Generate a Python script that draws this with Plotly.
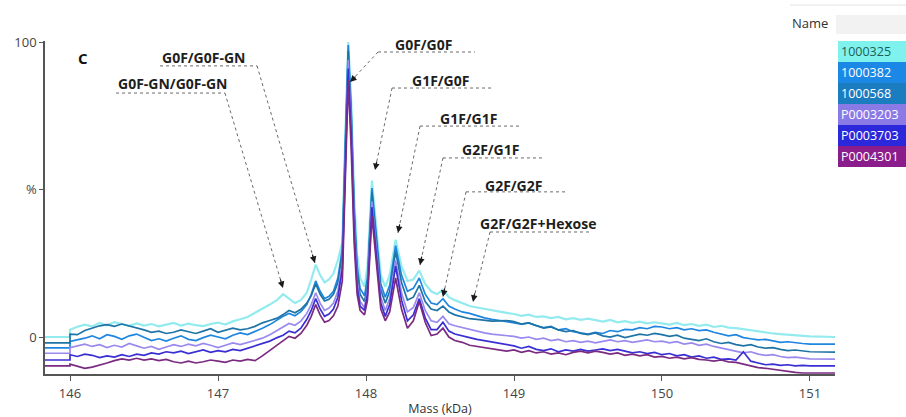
import plotly.graph_objects as go

# ---------------- data ----------------
mass_kda = [
    146.00, 146.05, 146.10, 146.15, 146.20, 146.25, 146.30, 146.35, 146.40, 146.45,
    146.50, 146.55, 146.60, 146.65, 146.70, 146.75, 146.80, 146.85, 146.90, 146.95,
    147.00, 147.05, 147.10, 147.15, 147.20, 147.25, 147.30, 147.35, 147.40,
    147.44, 147.48, 147.52, 147.56, 147.60, 147.63, 147.66, 147.69, 147.72, 147.75,
    147.78, 147.81, 147.84, 147.86, 147.88, 147.90, 147.92, 147.94, 147.96, 147.99,
    148.01, 148.04, 148.07, 148.10, 148.13, 148.16, 148.20, 148.24, 148.28, 148.32,
    148.36, 148.40, 148.44, 148.48, 148.52, 148.56, 148.60, 148.65, 148.70, 148.75,
    148.80, 148.85, 148.90,
    148.95, 149.00, 149.05, 149.10, 149.15, 149.20, 149.25, 149.30, 149.35, 149.40,
    149.45, 149.50, 149.55, 149.60, 149.65, 149.70, 149.75, 149.80, 149.85, 149.90,
    149.95, 150.00, 150.05, 150.10, 150.15, 150.20, 150.25, 150.30, 150.35, 150.40,
    150.45, 150.50, 150.55, 150.60, 150.65, 150.70, 150.75, 150.80, 150.85, 150.90,
    150.95, 151.00,
]

sample_names = ["1000325", "1000382", "1000568", "P0003203", "P0003703", "P0004301"]

int_1000325 = [
    2.5, 3.5, 4.2, 3.6, 4.8, 4.0, 5.0, 4.3, 3.8, 4.6, 3.9, 4.4, 3.6, 4.2, 4.8, 3.9, 4.5, 4.0, 3.7, 4.4,
    4.9, 4.2, 5.3, 6.0, 6.8, 8.2, 9.5, 11.0, 12.6,
    14.5, 13.0, 11.5, 12.5, 15.0, 19.5, 24.5, 21.0, 18.5, 19.5, 21.5, 26.0, 32.0, 68.0, 100.0, 80.0,
    48.0, 28.0, 20.0, 17.0, 24.0, 53.0, 38.0, 21.0, 17.0, 21.0, 33.0, 24.0, 19.0, 19.5, 22.5, 18.0,
    15.5, 14.5, 16.0, 13.5, 12.5, 11.5, 10.5, 10.0, 9.5, 9.0, 8.5,
    8.2, 7.8, 7.2, 7.6, 6.8, 7.0, 6.4, 6.8, 6.0, 6.4, 5.8, 6.2, 5.6, 5.2, 5.8, 5.0, 5.4, 4.8, 5.2, 4.6,
    5.0, 4.6, 4.2, 4.8, 4.0, 4.4, 3.8, 4.2, 3.4, 3.8, 3.2, 3.0, 2.6, 2.2, 1.8, 1.6, 1.2, 1.0, 0.8, 0.6,
    0.4, 0.2,
]
int_1000382 = [
    -1.5, -1.0, -0.4, 0.4, -0.6, 0.8, 0.2, -0.8, 0.4, 1.0, -0.2, -1.2, -0.6, -1.4, -0.4, 0.4, -0.8, -1.2,
    -0.2, 0.6, 0.0, -0.6, 0.6, 1.4, 0.8, 1.8, 3.0, 4.2, 5.8,
    7.0, 8.0, 7.2, 8.6, 11.0, 14.5, 19.0, 15.5, 13.0, 13.8, 15.5, 20.0, 30.0, 66.0, 99.0, 77.0,
    44.0, 24.0, 16.5, 14.0, 20.0, 50.5, 35.0, 18.0, 13.5, 17.5, 31.0, 21.0, 15.5, 16.5, 20.0, 14.5,
    11.5, 11.0, 13.0, 10.5, 9.5, 8.5, 8.0, 7.2, 6.5, 6.0, 5.6,
    5.4, 5.0, 4.4, 4.8, 3.8, 3.2, 3.6, 2.4, 2.8, 1.8, 1.4, 1.0, 1.6, 1.2, 2.2, 1.8, 2.6, 2.4, 3.2, 2.8,
    3.6, 3.4, 2.8, 3.2, 2.4, 2.8, 2.2, 2.4, 1.6, 1.0, 0.4, 0.8, -0.2, -0.6, -1.0, -0.8, -1.4, -1.8,
    -1.6, -2.0, -2.2, -2.4,
]
int_1000568 = [
    1.0, 0.8, 2.2, 3.0, 3.8, 4.2, 3.6, 4.4, 3.8, 3.0, 2.4, 1.6, 2.0, 1.2, 1.6, 2.4, 1.8, 1.2, 2.0, 2.8,
    1.6, 2.2, 3.0, 2.4, 2.8, 3.6, 4.8, 5.6, 6.4,
    7.6, 9.0, 8.2, 9.4, 11.5, 14.0, 18.0, 14.5, 12.2, 12.8, 14.5, 18.5, 28.0, 63.0, 97.0, 75.0,
    42.0, 22.0, 14.5, 12.0, 18.0, 49.0, 33.0, 16.0, 11.5, 15.5, 29.0, 18.5, 12.5, 13.5, 17.5, 12.0,
    9.5, 9.0, 10.5, 8.5, 7.5, 6.8, 6.2, 6.0, 5.6, 5.4, 5.5,
    5.6, 5.2, 4.4, 4.8, 3.8, 3.0, 3.4, 2.4, 1.8, 2.2, 1.2, 0.8, 1.4, 0.4, 0.0, 0.6, -0.2, 0.4, 1.0, 0.6,
    1.2, 0.8, 0.2, 0.6, -0.4, -0.8, -1.2, -0.6, -1.6, -2.2, -1.8, -2.6, -3.0, -2.6, -3.4, -3.8, -3.6,
    -4.2, -4.6, -4.4, -4.8, -5.0,
]
int_P0003203 = [
    -3.6, -3.0, -2.4, -3.2, -2.6, -3.6, -2.8, -3.4, -2.2, -3.0, -3.8, -3.2, -4.2, -3.4, -2.6, -3.2, -2.4,
    -3.0, -2.2, -2.8, -3.6, -2.8, -2.0, -2.6, -1.8, -1.2, -0.4, 0.8, 2.2,
    3.4, 4.6, 4.0, 5.4, 8.0, 11.0, 15.0, 11.5, 9.0, 9.8, 11.5, 15.5, 25.0, 60.0, 94.0, 72.0,
    39.0, 19.0, 12.0, 10.0, 16.0, 46.0, 30.0, 13.5, 9.0, 13.0, 26.0, 15.0, 8.5, 10.0, 15.0, 9.0,
    5.5, 5.0, 7.0, 4.5, 3.8, 3.2, 2.4, 2.0, 1.4, 1.0, 0.8,
    0.6, 0.2, -0.4, 0.0, -0.8, -0.4, -1.2, -0.8, -1.6, -1.2, -1.8, -1.4, -2.0, -1.4, -1.0, -1.6, -1.2,
    -1.8, -1.4, -1.0, -1.6, -1.4, -2.0, -1.6, -2.4, -2.0, -2.8, -2.4, -3.2, -3.8, -4.4, -4.8, -5.4,
    -5.0, -5.8, -6.2, -6.0, -6.6, -7.0, -6.8, -7.2, -7.4,
]
int_P0003703 = [
    -6.0, -6.6, -5.8, -6.2, -7.0, -6.4, -6.8, -6.0, -6.6, -5.8, -6.2, -5.4, -5.8, -5.0, -5.4, -4.8, -5.6,
    -5.0, -4.4, -5.2, -4.6, -5.0, -4.2, -4.6, -3.8, -3.0, -2.4, -1.4, -0.2,
    0.6, 2.0, 1.4, 3.0, 6.0, 9.0, 13.0, 9.5, 7.0, 7.8, 9.5, 13.5, 23.0, 57.0, 91.0, 69.0,
    36.0, 17.0, 10.5, 9.0, 14.5, 44.0, 28.0, 11.5, 7.0, 11.0, 24.0, 12.5, 5.5, 7.5, 13.0, 6.5,
    2.5, 2.5, 5.0, 2.0, 1.0, 0.5, -0.2, -0.8, -1.2, -1.8, -2.2,
    -2.6, -3.0, -3.8, -3.2, -4.2, -4.6, -4.0, -5.0, -4.4, -4.8, -4.2, -4.8, -4.4, -4.0, -4.6, -4.2,
    -4.8, -5.4, -5.0, -5.6, -5.2, -6.0, -5.6, -6.4, -6.0, -6.8, -6.4, -7.2, -6.8, -7.6, -7.4, -7.8,
    -5.0, -8.2, -8.8, -9.4, -9.2, -9.6, -9.4, -9.8, -9.6, -9.8,
]
int_P0004301 = [
    -9.2, -10.0, -10.6, -10.2, -9.6, -8.8, -8.0, -7.4, -7.8, -7.2, -7.8, -7.4, -8.0, -7.6, -8.4, -8.8,
    -8.2, -8.8, -8.4, -7.8, -8.2, -8.6, -7.8, -8.2, -7.6, -8.0, -6.4, -4.6, -2.8,
    -1.4, 0.2, -0.4, 1.2, 4.0, 7.0, 11.0, 7.5, 5.0, 5.6, 7.2, 10.5, 19.0, 52.0, 87.0, 64.0,
    32.0, 14.5, 9.0, 7.5, 12.5, 41.0, 25.0, 9.5, 5.5, 8.5, 20.0, 9.5, 3.0, 5.5, 12.0, 5.0,
    0.5, 1.0, 3.0, 0.0, -1.2, -1.8, -2.8, -3.2, -3.8, -4.2, -4.6,
    -4.8, -4.4, -5.2, -4.6, -5.4, -5.0, -5.8, -5.4, -6.0, -5.2, -4.8, -5.4, -4.8, -5.2, -5.8, -5.4,
    -6.2, -5.8, -6.4, -6.0, -6.8, -6.6, -7.2, -6.8, -7.4, -7.0, -7.6, -7.8, -8.2, -7.8, -8.4, -8.6,
    -9.2, -9.8, -10.4, -10.6, -11.0, -11.4, -11.8, -12.0, -12.2, -12.2,
]

# flat trace levels drawn before 146 and after 151 kDa
left_level = [0.0, -3.7, -2.0, -5.5, -7.8, -9.8]
right_level = [0.0, -2.4, -5.1, -7.5, -9.8, -12.2]

peak_labels = ["G0F/G0F-GN", "G0F-GN/G0F-GN", "G0F/G0F", "G1F/G0F",
               "G1F/G1F", "G2F/G1F", "G2F/G2F", "G2F/G2F+Hexose"]

x_ticks = [146, 147, 148, 149, 150, 151]

# ---------------- styles ----------------
line_colors = ["rgba(128,232,236,0.85)", "#1f86e0", "#1f74a6", "#9a8aee", "#3a2fd2", "#7b2a82"]
legend_bg = ["#80f2ee", "#1c88e6", "#1b7cc0", "#8a7ae6", "#2b28dc", "#8a1c8c"]
legend_fg = ["#1d5e52", "white", "white", "white", "white", "white"]

X_MIN, X_MAX = 145.831, 151.169
Y_MIN, Y_MAX = -12.54, 100.34

all_series = [int_1000325, int_1000382, int_1000568, int_P0003203, int_P0003703, int_P0004301]
for s in all_series:
    assert len(s) == len(mass_kda), (len(s), len(mass_kda))

fig = go.Figure()
for i, name in enumerate(sample_names):
    xs = [X_MIN, mass_kda[0]] + mass_kda + [X_MAX]
    ys = [left_level[i], left_level[i]] + all_series[i] + [right_level[i]]
    fig.add_trace(go.Scatter(
        x=xs, y=ys, mode="lines", name=name, showlegend=False,
        line=dict(color=line_colors[i], width=2.2 if i == 0 else 1.7),
    ))

# label geometry (data coordinates): text position, underline span, arrow tip
label_geo = [
    # text_x, text_y, ul_x0, ul_x1, ul_y, tail_x, tip_x, tip_y, ax, ay
    (146.608, 94.9, 146.608, 147.264, 91.9, 147.264, 147.655, 25.1, -3, -10),
    (146.311, 85.8, 146.311, 147.047, 82.7, 147.047, 147.439, 16.6, -3, -10),
    (148.182, 99.0, 148.081, 148.736, 96.6, 148.081, 147.892, 86.4, 7, -7),
    (148.297, 87.1, 148.176, 148.851, 84.4, 148.176, 148.061, 56.6, 2, -10),
    (148.486, 74.2, 148.365, 149.041, 71.5, 148.365, 148.216, 35.3, 2, -10),
    (148.635, 63.4, 148.520, 149.189, 60.7, 148.520, 148.365, 24.4, 2, -10),
    (148.791, 51.5, 148.676, 149.345, 49.2, 148.676, 148.520, 13.6, 2, -10),
    (148.757, 38.6, 148.838, 149.527, 35.6, 148.838, 148.723, 11.9, 2, -10),
]

dot_line = dict(color="#6a6a6a", width=1, dash="dot")
for lab, g in zip(peak_labels, label_geo):
    tx, ty, u0, u1, uy, tail_x, tip_x, tip_y, ax, ay = g
    fig.add_annotation(x=tx, y=ty, text="<b>" + lab + "</b>", showarrow=False,
                       xanchor="left", yanchor="middle",
                       font=dict(family="Open Sans", size=14, color="#1e1e1e"))
    fig.add_shape(type="line", x0=u0, x1=u1, y0=uy, y1=uy, line=dot_line)
    fig.add_shape(type="line", x0=tail_x, x1=tip_x, y0=uy, y1=tip_y, line=dot_line)
    fig.add_annotation(x=tip_x, y=tip_y, text="", showarrow=True, arrowhead=2,
                       arrowsize=1.1, arrowwidth=1.2, arrowcolor="#1a1a1a",
                       ax=ax, ay=ay, standoff=0)

# panel letter
fig.add_annotation(x=146.04, y=94.6, text="<b>C</b>", showarrow=False,
                   xanchor="left", yanchor="middle",
                   font=dict(family="Open Sans", size=15, color="#111"))

# ---------------- legend table (pixel helpers) ----------------
L_PX, R_PX, T_PX, B_PX = 45, 835, 41, 374
def pxx(p):
    return (p - L_PX) / (R_PX - L_PX)
def pxy(p):
    return (B_PX - p) / (B_PX - T_PX)

fig.add_shape(type="line", xref="paper", yref="paper", x0=pxx(790), x1=pxx(910),
              y0=pxy(5), y1=pxy(5), line=dict(color="#e4e4e4", width=1))
fig.add_shape(type="rect", xref="paper", yref="paper", x0=pxx(836), x1=pxx(910),
              y0=pxy(34), y1=pxy(15), line=dict(width=0), fillcolor="#f2f2f2")
fig.add_annotation(xref="paper", yref="paper", x=pxx(790), y=pxy(23), text="Name",
                   showarrow=False, xanchor="left", yanchor="middle",
                   font=dict(family="Open Sans", size=13, color="#333"))
row_h = 21
for k, name in enumerate(sample_names):
    top = 41 + row_h * k
    fig.add_shape(type="rect", xref="paper", yref="paper", x0=pxx(838), x1=pxx(910),
                  y0=pxy(top + row_h), y1=pxy(top), line=dict(width=0),
                  fillcolor=legend_bg[k])
    fig.add_annotation(xref="paper", yref="paper", x=pxx(839), y=pxy(top + row_h / 2),
                       text=name, showarrow=False, xanchor="left", yanchor="middle",
                       font=dict(family="Open Sans", size=12.5, color=legend_fg[k]))

fig.update_layout(
    width=906, height=417,
    margin=dict(l=L_PX, r=906 - R_PX, t=T_PX, b=417 - B_PX, autoexpand=False),
    paper_bgcolor="white", plot_bgcolor="white",
    font=dict(family="Open Sans", color="#444"),
)
fig.update_xaxes(
    range=[X_MIN, X_MAX], tickvals=x_ticks, ticktext=[str(t) for t in x_ticks],
    showgrid=False, zeroline=False, showline=True, linecolor="#555", linewidth=1.5,
    ticks="outside", ticklen=5, tickcolor="#555", tickfont=dict(size=13, color="#444"),
    ticklabelstandoff=2, automargin=False,
    title=dict(text="Mass (kDa)", font=dict(size=12.5, color="#333"), standoff=4),
)
fig.update_yaxes(
    range=[Y_MIN, Y_MAX], tickvals=[0, 50, 100], ticktext=["0", "%", "100"],
    showgrid=False, zeroline=False, showline=True, linecolor="#555", linewidth=1.5,
    ticks="outside", ticklen=4, tickcolor="#555", tickfont=dict(size=13, color="#444"),
    automargin=False,
)

fig.write_html("out.html")
